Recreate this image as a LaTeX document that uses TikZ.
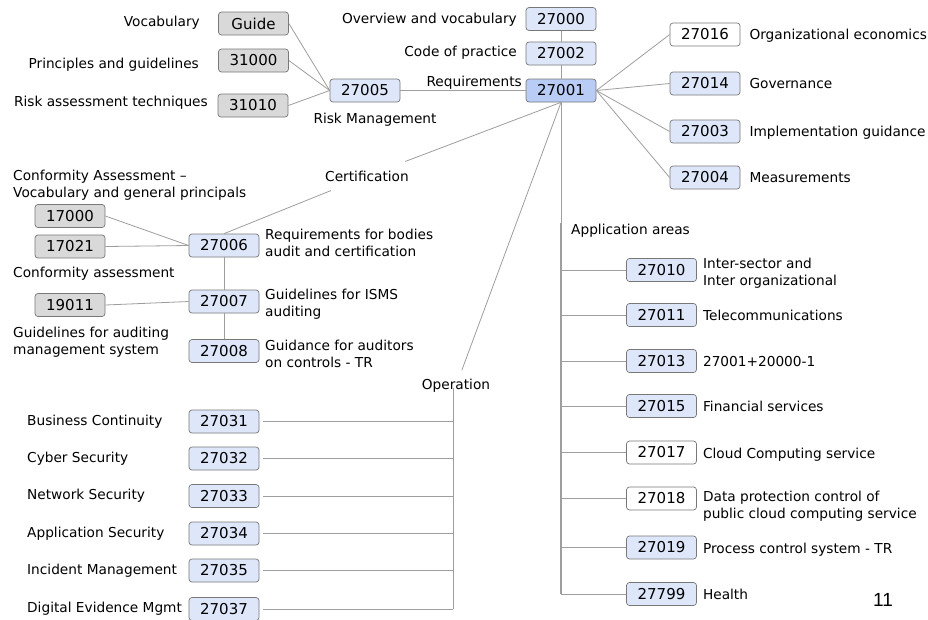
\documentclass[tikz,border=0pt]{standalone}
\usepackage{fontspec}
\setmainfont{DejaVu Sans}
\newfontfamily\pagefont{Liberation Sans}
\usepackage{tikz}
\usetikzlibrary{positioning}
\definecolor{myblue}{RGB}{222,231,250}
\definecolor{mydarkblue}{RGB}{185,204,245}
\definecolor{mygrey}{RGB}{217,217,217}
\definecolor{mywhite}{RGB}{255,255,255}
\definecolor{myedge}{RGB}{120,120,120}
\definecolor{myline}{RGB}{158,158,158}
\tikzstyle{isobox}=[draw=myedge,line width=0.7pt,fill=myblue,rounded corners=3pt,minimum width=70pt,minimum height=23pt,inner sep=0pt,font=\fontsize{15}{18}\selectfont]

\begin{document}
\begin{tikzpicture}[
  x=1pt, y=-1pt,
  font=\fontsize{13.7}{17}\selectfont,
  lbl/.style={inner sep=0pt, align=left, text depth=0pt},
  area/.style={inner xsep=2pt, inner ysep=9pt},
  link/.style={draw=myline, line width=0.8pt},
  bus/.style={draw=myline, line width=1.5pt}
]
\useasboundingbox[fill=white] (0,0) rectangle (928,619);

% risk management
\node [isobox, fill=mygrey] (guide) at (253.5,23.5) {Guide};
\node [isobox, fill=mygrey] (a31000) at (253.5,60.5) {31000};
\node [isobox, fill=mygrey] (a31010) at (253,105.5) {31010};
\node [isobox] (a27005) at (365,90.5) {27005};
\node [lbl, anchor=east] (tguide) at (200,21) {Vocabulary};
\node [lbl, anchor=east] (t31000) at (199,63) {Principles and guidelines};
\node [lbl, anchor=east] (t31010) at (208,101) {Risk assessment techniques};
\node [lbl] (t27005) at (375,118) {Risk Management};
\foreach \Valor in {guide, a31000, a31010}
  \draw [link] (\Valor.east) -- (a27005.west);

% core
\node [isobox] (a27000) at (561,19) {27000};
\node [isobox] (a27002) at (561,53.5) {27002};
\node [isobox, fill=mydarkblue] (a27001) at (561,90.5) {27001};
\node [lbl, anchor=east] (t27000) at (517,18) {Overview and vocabulary};
\node [lbl, anchor=east] (t27002) at (517,51) {Code of practice};
\node [lbl, anchor=east] (treq) at (522,81) {Requirements};
\draw [link] (a27000) -- (a27002);
\draw [link] (a27002) -- (a27001);
\draw [link] (a27005) -- (a27001);

\foreach \Num/\Ypos/\Fill/\Texto in {27016/34.5/mywhite/Organizational economics, 27014/83.5/myblue/Governance, 27003/131.5/myblue/Implementation guidance, 27004/177.5/myblue/Measurements}
{
  \node [isobox, fill=\Fill] (a\Num) at (705,\Ypos) {\Num};
  \node [lbl, right=9pt of a\Num] (t\Num) {\Texto};
  \draw [link] (a27001.east) -- (a\Num.west);
}

% certification
\node [isobox] (a27006) at (224,245.5) {27006};
\node [isobox] (a27007) at (224,301.5) {27007};
\node [isobox] (a27008) at (224,351) {27008};
\node [isobox, fill=mygrey] (a17000) at (70,216) {17000};
\node [isobox, fill=mygrey] (a17021) at (70,246.5) {17021};
\node [isobox, fill=mygrey] (a19011) at (70,305) {19011};
\node [area] (cert) at (367,176) {Certification};
\node [lbl, anchor=west] (t17000) at (13,184) {Conformity Assessment –\\Vocabulary and general principals};
\node [lbl, anchor=west] (t17021) at (13,272) {Conformity assessment};
\node [lbl, anchor=west] (t19011) at (13,341) {Guidelines for auditing\\management system};
\node [lbl, anchor=west] (t27006) at (265,243) {Requirements for bodies\\audit and certification};
\node [lbl, anchor=west] (t27007) at (265,303) {Guidelines for ISMS\\auditing};
\node [lbl, anchor=west] (t27008) at (265,354) {Guidance for auditors\\on controls - TR};
\draw [link] (a27001.south) -- (cert);
\draw [link] (cert) -- (a27006.north);
\draw [link] (a17000.east) -- (a27006.west);
\draw [link] (a17021.east) -- (a27006.west);
\draw [link] (a19011.east) -- (a27007.west);
\draw [link] (a27006) -- (a27007);
\draw [link] (a27007) -- (a27008);

% operation
\node [area] (oper) at (456,386) {Operation};
\coordinate (optop) at (453,388);
\coordinate (opend) at (453,609);
\draw [link] (a27001.south) -- (oper);
\draw [link] (optop) -- (opend);
\foreach \Num/\Ypos/\Texto in {27031/421.5/Business Continuity, 27032/458.5/Cyber Security, 27033/496/Network Security, 27034/533.5/Application Security, 27035/570.5/Incident Management, 27037/609/Digital Evidence Mgmt}
{
  \node [isobox] (a\Num) at (224,\Ypos) {\Num};
  \node [lbl, anchor=west] (t\Num) at (27,\Ypos-1.5) {\Texto};
  \draw [link] ([xshift=4pt]a\Num.east) -- (a\Num.east -| optop);
}

% application areas
\coordinate (aptop) at (561,223);
\coordinate (apend) at (561,594);
\node [lbl, anchor=west] (tapp) at (571,229) {Application areas};
\draw [link] (a27001.south) -- (aptop);
\draw [bus] (aptop) -- (apend);
\foreach \Num/\Ypos/\Fill/\Dy/\Texto in {27010/270/myblue/-2/{Inter-sector and\\Inter organizational}, 27011/315/myblue/0/Telecommunications, 27013/361/myblue/0/27001+20000-1, 27015/406/myblue/0/Financial services, 27017/452.5/mywhite/-1/Cloud Computing service, 27018/498.5/mywhite/-6/{Data protection control of\\public cloud computing service}, 27019/547.5/myblue/-1/Process control system - TR, 27799/594/myblue/0/Health}
{
  \node [isobox, fill=\Fill] (a\Num) at (661.5,\Ypos) {\Num};
  \node [lbl, right=6pt of a\Num, yshift=\Dy pt] (t\Num) {\Texto};
  \draw [link] (a\Num.west -| aptop) -- (a\Num.west);
}

\node [font=\pagefont\fontsize{19}{22}\selectfont] (pnum) at (883,600) {11};
\end{tikzpicture}
\end{document}
